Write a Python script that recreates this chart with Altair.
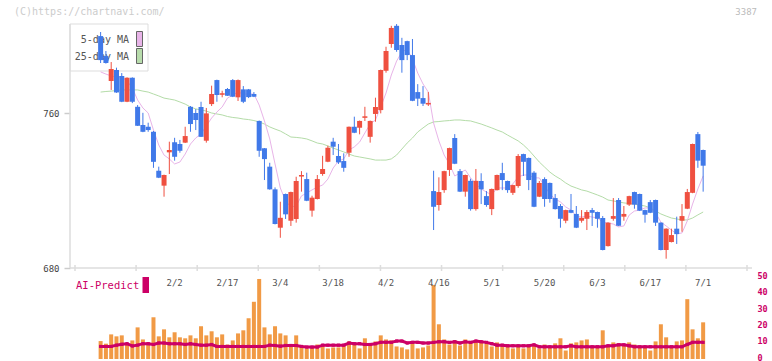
import altair as alt
import pandas as pd
import numpy as np

# ---------------- data ----------------
opens = [799.7, 789.4, 776.5, 782.2, 779.1, 765.8, 778.2, 763.2, 753.8, 752.9,
         750.3, 730.2, 722.5, 739.7, 744.9, 744.0, 744.7, 763.2, 760.0, 763.1,
         745.7, 764.6, 777.0, 769.4, 772.4, 777.0, 768.1, 772.2, 772.2, 769.8,
         755.9, 741.8, 732.3, 720.6, 700.8, 718.2, 704.4, 705.3, 727.2, 725.9,
         709.6, 715.6, 728.5, 734.8, 745.2, 737.8, 735.2, 739.5, 752.9, 752.4,
         757.5, 747.7, 759.5, 761.5, 781.8, 795.6, 805.0, 795.1, 797.1, 789.9,
         770.8, 767.7, 764.4, 719.7, 712.5, 720.2, 730.6, 747.1, 730.0, 719.4,
         725.0, 710.4, 724.9, 717.1, 710.4, 720.2, 729.0, 724.9, 718.8, 722.3,
         738.8, 736.8, 729.2, 716.8, 725.9, 723.9, 716.1, 712.0, 704.4, 709.9,
         707.9, 704.4, 705.4, 709.9, 708.9, 705.8, 691.3, 705.4, 715.1, 706.5,
         712.7, 719.2, 718.2, 709.9, 714.0, 715.1, 703.4, 689.3, 693.4, 700.3,
         704.4, 710.6, 718.8, 749.1, 740.9]
highs = [801.8, 792.0, 786.3, 783.4, 780.6, 778.4, 778.4, 764.1, 760.1, 755.0,
         750.7, 732.3, 728.2, 745.2, 747.2, 746.1, 752.9, 763.6, 762.0, 765.8,
         762.6, 774.1, 777.2, 771.5, 772.9, 777.5, 777.3, 773.9, 772.4, 770.8,
         756.1, 741.9, 734.3, 721.6, 714.2, 718.4, 719.4, 727.1, 730.0, 729.2,
         717.3, 728.0, 737.9, 743.1, 747.2, 744.0, 739.2, 753.0, 758.1, 756.1,
         763.2, 756.1, 767.9, 782.4, 794.2, 805.0, 805.9, 798.8, 797.3, 798.2,
         774.9, 773.9, 770.8, 730.2, 726.8, 730.2, 742.1, 749.1, 731.1, 728.2,
         726.1, 731.1, 728.9, 719.7, 721.0, 728.2, 734.3, 725.1, 723.0, 738.8,
         739.0, 737.0, 730.0, 724.9, 726.8, 724.1, 718.2, 713.0, 710.1, 718.2,
         712.0, 709.9, 709.9, 711.0, 709.1, 706.8, 703.6, 716.1, 716.1, 712.0,
         717.3, 719.4, 718.4, 710.1, 715.1, 715.3, 703.6, 700.5, 700.3, 706.5,
         713.0, 720.8, 744.2, 750.2, 741.1]
lows = [785.8, 785.5, 771.9, 770.4, 765.6, 765.6, 765.1, 753.3, 750.1, 750.3,
        731.7, 726.4, 716.8, 728.5, 735.4, 739.5, 744.5, 750.3, 751.2, 747.6,
        744.7, 763.6, 765.8, 768.1, 768.8, 768.2, 766.2, 765.1, 767.7, 768.2,
        737.4, 725.4, 720.4, 702.5, 695.6, 705.3, 701.7, 703.4, 719.4, 714.5,
        706.5, 715.4, 727.6, 734.6, 738.3, 733.7, 729.7, 737.4, 749.6, 749.0,
        755.9, 744.7, 755.5, 759.8, 780.8, 793.7, 791.6, 780.8, 787.3, 766.1,
        763.6, 763.6, 763.6, 699.6, 709.6, 718.8, 727.5, 733.6, 719.2, 716.8,
        709.6, 709.6, 713.0, 711.6, 707.3, 720.0, 720.2, 718.8, 717.7, 721.4,
        727.5, 720.2, 711.4, 716.6, 711.6, 713.7, 710.2, 700.8, 703.1, 708.3,
        700.6, 703.4, 699.6, 701.7, 700.8, 689.1, 691.1, 704.4, 701.6, 704.4,
        712.0, 710.6, 709.4, 703.4, 708.3, 701.7, 689.1, 684.8, 693.2, 692.4,
        698.7, 710.4, 718.6, 731.7, 719.4]
closes = [787.3, 785.8, 782.7, 770.6, 765.8, 778.2, 765.8, 753.4, 750.3, 751.2,
          734.8, 726.6, 728.0, 740.9, 737.4, 740.5, 748.1, 754.3, 756.4, 747.7,
          759.8, 769.8, 769.3, 770.2, 768.9, 768.4, 777.0, 765.8, 768.2, 768.4,
          740.5, 736.2, 720.6, 702.7, 705.9, 707.7, 719.2, 724.9, 728.0, 714.7,
          716.3, 725.9, 731.1, 742.1, 742.6, 734.5, 731.7, 752.9, 749.8, 755.9,
          758.3, 755.9, 763.1, 782.2, 792.0, 803.9, 792.5, 787.3, 789.9, 766.3,
          767.4, 764.8, 765.2, 711.6, 719.2, 730.0, 741.9, 733.8, 719.4, 728.0,
          710.4, 725.0, 720.6, 712.5, 720.8, 728.0, 725.4, 720.2, 722.8, 737.8,
          734.8, 725.4, 711.6, 723.9, 715.6, 715.6, 710.4, 705.4, 709.9, 708.5,
          700.8, 705.9, 708.9, 708.5, 705.4, 689.3, 703.4, 706.8, 701.8, 707.9,
          717.1, 712.7, 709.6, 707.5, 708.5, 703.4, 689.3, 700.3, 697.0, 697.5,
          706.8, 719.2, 744.0, 735.4, 732.8]
ma5 = [781.2, 780.1, 779.1, 778.6, 778.6, 776.5, 772.9, 766.7, 762.6, 760.0,
       751.2, 743.5, 738.3, 736.3, 733.7, 734.7, 738.8, 744.0, 747.1, 749.2,
       753.3, 757.4, 760.5, 763.1, 767.7, 769.3, 770.8, 769.8, 769.8, 769.8,
       764.1, 755.9, 746.6, 733.7, 721.3, 714.6, 711.5, 712.0, 717.2, 718.7,
       720.3, 721.8, 722.8, 725.9, 731.6, 735.2, 736.3, 740.9, 742.5, 745.0,
       749.7, 754.3, 756.4, 763.1, 770.3, 779.6, 786.8, 791.5, 793.0, 787.9,
       780.6, 775.0, 770.8, 754.8, 745.6, 738.3, 733.7, 727.5, 729.0, 730.6,
       726.5, 723.4, 720.8, 719.2, 717.7, 721.3, 721.3, 721.3, 723.4, 727.0,
       728.0, 728.0, 726.5, 726.5, 722.3, 718.2, 715.6, 714.1, 711.5, 709.9,
       706.8, 706.3, 706.8, 706.3, 705.8, 703.7, 703.2, 702.7, 701.2, 701.7,
       707.3, 709.4, 709.9, 711.0, 711.0, 708.4, 703.7, 701.7, 699.6, 697.6,
       698.1, 704.3, 713.0, 720.8, 727.5]
ma25 = [770.8, 771.1, 771.3, 771.6, 771.9, 771.9, 771.9, 771.9, 771.3, 770.8,
        769.8, 768.8, 767.7, 767.2, 766.7, 765.7, 764.6, 763.1, 762.1, 761.6,
        761.0, 760.0, 759.5, 759.0, 758.2, 757.7, 757.4, 756.9, 756.6, 756.1,
        755.4, 754.3, 752.8, 751.7, 750.7, 749.2, 747.6, 747.4, 747.1, 746.6,
        745.6, 744.5, 744.0, 743.0, 741.9, 740.9, 739.9, 738.8, 737.8, 737.3,
        736.8, 736.3, 735.7, 735.7, 735.7, 736.3, 738.3, 741.4, 744.5, 747.1,
        750.2, 752.3, 754.3, 755.4, 755.6, 755.9, 756.1, 756.4, 756.4, 756.1,
        755.9, 755.1, 754.3, 753.3, 752.3, 751.2, 750.2, 748.6, 747.1, 745.6,
        743.5, 740.9, 737.8, 734.7, 732.1, 729.5, 727.5, 725.9, 723.9, 722.3,
        721.3, 720.3, 719.7, 718.7, 717.7, 716.6, 715.1, 714.6, 714.1, 713.6,
        713.3, 713.0, 712.5, 712.0, 711.0, 709.4, 707.9, 706.8, 705.8, 705.3,
        704.8, 704.8, 705.8, 707.4, 708.9]
volume = [11.0, 9.4, 15.1, 13.9, 14.5, 9.4, 11.4, 19.4, 12.0, 10.2,
          25.6, 13.9, 18.2, 13.3, 16.4, 13.3, 12.7, 14.5, 12.7, 20.1,
          14.5, 17.0, 13.3, 15.1, 8.9, 11.4, 15.7, 17.6, 25.0, 35.1,
          49.1, 19.4, 15.1, 20.1, 15.7, 14.5, 8.9, 14.5, 8.3, 6.5,
          7.1, 8.9, 8.3, 6.5, 7.1, 7.1, 8.3, 10.8, 8.9, 6.5,
          12.7, 8.9, 10.8, 14.5, 12.0, 11.4, 7.7, 7.1, 5.9, 9.6,
          6.5, 7.1, 8.3, 45.4, 21.3, 12.0, 8.9, 11.4, 8.3, 12.0,
          10.8, 10.2, 10.2, 9.6, 7.7, 10.2, 8.5, 8.0, 6.5, 7.7,
          6.5, 7.7, 8.9, 6.5, 8.9, 7.7, 9.6, 12.7, 5.2, 9.6,
          10.2, 11.4, 12.0, 7.7, 7.7, 17.6, 7.7, 10.2, 9.6, 8.9,
          10.2, 8.9, 7.7, 7.1, 5.2, 10.8, 21.3, 13.3, 7.7, 10.8,
          11.4, 36.7, 18.2, 12.7, 22.5]
ai_predict = [7.7, 7.7, 7.7, 8.5, 9.0, 9.4, 8.0, 8.5, 9.4, 9.4,
              8.9, 9.8, 9.8, 9.4, 9.4, 9.4, 8.9, 9.4, 8.9, 8.5,
              8.5, 8.9, 7.7, 7.7, 7.7, 7.7, 7.7, 7.7, 7.7, 7.7,
              7.7, 7.7, 8.5, 8.3, 7.9, 8.3, 8.3, 8.3, 7.7, 7.3,
              7.3, 7.3, 8.5, 8.5, 8.5, 8.5, 8.5, 9.8, 9.4, 9.4,
              8.9, 8.9, 9.4, 10.2, 10.2, 10.2, 11.0, 11.0, 9.8, 10.2,
              10.2, 9.8, 9.8, 10.2, 10.6, 10.6, 10.2, 10.6, 9.8, 10.6,
              10.2, 11.0, 10.6, 10.2, 9.4, 8.5, 8.5, 8.1, 8.1, 8.1,
              8.1, 8.1, 8.7, 7.5, 7.5, 7.5, 7.5, 7.5, 7.5, 8.1,
              7.5, 7.5, 7.5, 7.5, 7.5, 7.5, 8.1, 8.1, 8.7, 8.7,
              8.1, 7.5, 7.5, 7.5, 7.5, 7.5, 7.5, 7.5, 7.5, 7.5,
              7.5, 8.9, 10.2, 10.2, 10.2]
date_labels = ["2/2", "2/17", "3/4", "3/18", "4/2", "4/16", "5/1", "5/20", "6/3", "6/17", "7/1"]
date_label_pos = [14, 24, 34, 44, 54, 64, 74, 84, 94, 104, 114]
price_ticks = [680, 760]
volume_ticks = [0, 10, 20, 30, 40, 50]

# ---------------- layout ----------------
W, H = 682, 359
PX_PER_CANDLE = 5.364
FIRST_X = 26.0
x_min = -FIRST_X / PX_PER_CANDLE
x_max = x_min + W / PX_PER_CANDLE
PX_PER_PRICE = 155.0 / 80.0
P_MAX = 760 + 113 / PX_PER_PRICE
P_MIN = P_MAX - H / PX_PER_PRICE
PX_PER_VOL = 81.5 / 50.0
V_MAX = H / PX_PER_VOL

UP, DOWN = "#EF5040", "#4079E9"
MONO = "DejaVu Sans Mono"

n = len(closes)
df = pd.DataFrame({
    "i": list(range(n)), "open": opens, "high": highs, "low": lows, "close": closes,
    "ma5": ma5, "ma25": ma25, "vol": volume, "ai": ai_predict,
})
df["dir"] = np.where(df["close"] >= df["open"], "up", "down")

xscale = alt.Scale(domain=[x_min, x_max], nice=False, zero=False)
pscale = alt.Scale(domain=[P_MIN, P_MAX], nice=False, zero=False)
vscale = alt.Scale(domain=[0, V_MAX], nice=False, zero=False)
X = alt.X("i:Q", scale=xscale, axis=None)
dir_color = alt.Color("dir:N", scale=alt.Scale(domain=["up", "down"], range=[UP, DOWN]), legend=None)

base = alt.Chart(df)
one = alt.Chart(pd.DataFrame({"a": [0]}))

# legend box (drawn under the candles)
leg_box = one.mark_rect(fill="white", stroke="#dddddd", strokeWidth=1).encode(
    x=alt.value(0), x2=alt.value(78), y=alt.value(24), y2=alt.value(71))
leg_sw1 = one.mark_rect(fill="#E8B4E8", stroke="#666666", strokeWidth=1).encode(
    x=alt.value(66.5), x2=alt.value(72.5), y=alt.value(31.5), y2=alt.value(46.5))
leg_sw2 = one.mark_rect(fill="#B8DCAC", stroke="#666666", strokeWidth=1).encode(
    x=alt.value(66.5), x2=alt.value(72.5), y=alt.value(48.5), y2=alt.value(63.5))
leg_t1 = one.mark_text(text="5-day MA", align="right", baseline="middle", font=MONO,
                       fontSize=10, color="#555555").encode(x=alt.value(59), y=alt.value(40))
leg_t2 = one.mark_text(text="25-day MA", align="right", baseline="middle", font=MONO,
                       fontSize=10, color="#555555").encode(x=alt.value(59), y=alt.value(57))

# frame lines
x_line = one.mark_rule(color="#dddddd", strokeWidth=1.5).encode(
    x=alt.value(0), x2=alt.value(W), y=alt.value(268))
y_line = one.mark_rule(color="#dddddd", strokeWidth=1.5).encode(
    x=alt.value(0), y=alt.value(24), y2=alt.value(268))
tick_df = pd.DataFrame({"i": np.linspace(x_min, x_max, 12)})
x_ticks = alt.Chart(tick_df).mark_rule(color="#dddddd", strokeWidth=1.5).encode(
    x=X, y=alt.value(265), y2=alt.value(271))

ma25_line = base.mark_line(color="#B4DCA8", strokeWidth=1).encode(
    x=X, y=alt.Y("ma25:Q", scale=pscale, axis=None))
ma5_line = base.mark_line(color="#E8B4E8", strokeWidth=1).encode(
    x=X, y=alt.Y("ma5:Q", scale=pscale, axis=None))

wicks = base.mark_rule(strokeWidth=1).encode(
    x=X, y=alt.Y("low:Q", scale=pscale, axis=None), y2="high:Q", color=dir_color)
bodies = base.mark_bar(size=5).encode(
    x=X,
    y=alt.Y("open:Q", scale=pscale,
            axis=alt.Axis(orient="left", values=price_ticks, domain=False, grid=False,
                          tickSize=6, tickColor="#cccccc", tickWidth=1.5,
                          labelColor="#444444", labelFont=MONO, labelFontSize=9,
                          labelPadding=5, title=None)),
    y2="close:Q", color=dir_color)

vol_bars = base.mark_bar(size=4, color="#F19A45").encode(
    x=X,
    y=alt.Y("vol:Q", scale=vscale,
            axis=alt.Axis(orient="right", values=volume_ticks, domain=False, grid=False,
                          ticks=False, labelColor="#CC0066", labelFont=MONO,
                          labelFontSize=8.5, labelFontWeight="bold", labelPadding=5,
                          labelOffset=-2, title=None)))
ai_line = base.mark_line(color="#CC0066", strokeWidth=3).encode(
    x=X, y=alt.Y("ai:Q", scale=vscale, axis=None))
ai_pts = base.mark_square(color="#CC0066", size=10, opacity=1).encode(
    x=X, y=alt.Y("ai:Q", scale=vscale, axis=None))

lab_df = pd.DataFrame({"i": date_label_pos, "t": date_labels})
date_text = alt.Chart(lab_df).mark_text(font=MONO, fontSize=9, color="#555555",
                                        baseline="middle").encode(
    x=X, y=alt.value(283), text="t:N")

ai_text = one.mark_text(text="AI-Predict", align="left", baseline="middle", font=MONO,
                        fontSize=10.5, color="#CC0066").encode(x=alt.value(6), y=alt.value(286))
ai_rect = one.mark_rect(fill="#CC0066").encode(
    x=alt.value(72.5), x2=alt.value(79), y=alt.value(277), y2=alt.value(293))
wm = one.mark_text(text="(C)https://chartnavi.com/", align="left", baseline="middle",
                   font=MONO, fontSize=10, color="#cccccc").encode(x=alt.value(-56), y=alt.value(12))
code = one.mark_text(text="3387", align="right", baseline="middle", font=MONO,
                     fontSize=9, color="#bbbbbb").encode(x=alt.value(687), y=alt.value(12))

chart = alt.layer(
    leg_box, leg_sw1, leg_sw2, leg_t1, leg_t2,
    x_line, y_line, x_ticks,
    ma25_line, ma5_line, wicks, bodies,
    vol_bars, ai_line, ai_pts,
    date_text, ai_text, ai_rect, wm, code,
).resolve_scale(y="independent").properties(
    width=W, height=H,
    padding={"left": 70, "top": 0, "right": 20, "bottom": 2},
    autosize=alt.AutoSizeParams(type="none"),
    background="white",
).configure_view(stroke=None)

chart.save("out.html", embed_options={"renderer": "svg", "actions": False})
